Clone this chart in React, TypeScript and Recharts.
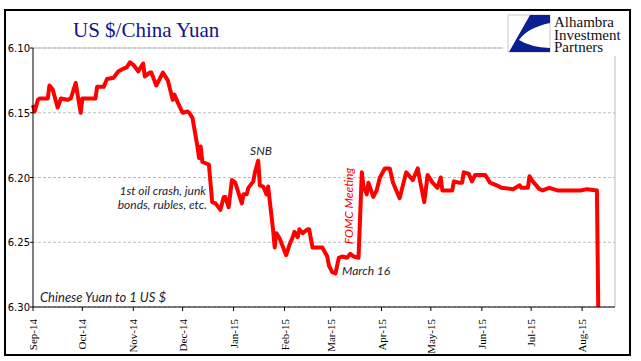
import { CartesianGrid, Line, LineChart, ReferenceLine, XAxis, YAxis } from 'recharts';

// days since 1 Sep 2014, and the USD/CNY rate
const dayOffsets = [
  0, 1, 3, 4, 9, 10, 12, 15, 17, 21, 23, 24, 26, 27, 29, 30, 38, 39, 43, 45,
  49, 52, 55, 57, 59, 61, 64, 67, 68, 71, 72, 75, 79, 82, 85, 86, 88, 91, 94, 95,
  97, 100, 101, 102, 103, 105, 107, 109, 111, 114, 116, 117, 119, 121, 123, 127, 128, 130, 131, 134,
  135, 137, 138, 140, 142, 143, 146, 147, 148, 150, 154, 156, 158, 159, 161, 162, 164, 167, 168, 170,
  176, 179, 180, 182, 184, 186, 188, 191, 193, 195, 198, 200, 201, 203, 204, 207, 209, 211, 214, 217,
  219, 223, 227, 231, 234, 235, 238, 240, 243, 246, 248, 249, 255, 256, 259, 261, 262, 265, 267, 269,
  275, 278, 282, 285, 292, 296, 297, 301, 302, 304, 308, 310, 314, 319, 333, 337, 343, 344,
];

const rates = [
  6.144, 6.149, 6.14, 6.139, 6.139, 6.129, 6.132, 6.146, 6.139, 6.14, 6.139, 6.135, 6.127, 6.135, 6.15, 6.139, 6.139, 6.13, 6.13, 6.124,
  6.123, 6.118, 6.116, 6.115, 6.111, 6.113, 6.118, 6.112, 6.122, 6.119, 6.119, 6.129, 6.119, 6.125, 6.14, 6.136, 6.142, 6.15, 6.149, 6.15,
  6.154, 6.176, 6.185, 6.176, 6.188, 6.189, 6.19, 6.219, 6.22, 6.225, 6.215, 6.215, 6.223, 6.202, 6.204, 6.22, 6.213, 6.213, 6.208, 6.203,
  6.196, 6.187, 6.206, 6.207, 6.213, 6.207, 6.24, 6.254, 6.243, 6.247, 6.26, 6.252, 6.246, 6.242, 6.246, 6.24, 6.243, 6.24, 6.24, 6.254,
  6.254, 6.261, 6.268, 6.273, 6.274, 6.262, 6.261, 6.262, 6.259, 6.261, 6.262, 6.196, 6.207, 6.213, 6.204, 6.215, 6.21, 6.2, 6.193, 6.193,
  6.204, 6.216, 6.196, 6.202, 6.193, 6.2, 6.219, 6.198, 6.204, 6.208, 6.2, 6.21, 6.21, 6.203, 6.204, 6.204, 6.196, 6.197, 6.203, 6.198,
  6.198, 6.204, 6.206, 6.208, 6.209, 6.206, 6.208, 6.208, 6.199, 6.203, 6.209, 6.21, 6.208, 6.21, 6.21, 6.209, 6.21, 6.323,
];

const monthTicks = [0, 30, 61, 91, 122, 153, 181, 212, 242, 273, 303, 334];
const monthLabels = ['Sep-14', 'Oct-14', 'Nov-14', 'Dec-14', 'Jan-15', 'Feb-15', 'Mar-15', 'Apr-15', 'May-15', 'Jun-15', 'Jul-15', 'Aug-15'];
const rateTicks = [6.1, 6.15, 6.2, 6.25, 6.3];

const data = dayOffsets.map((d, i) => ({ day: d, rate: rates[i] }));

const noteFont = 'Lato, "Open Sans", sans-serif';

function MonthTick({ x, y, payload }: any) {
  const label = monthLabels[monthTicks.indexOf(payload.value)];
  return (
    <text x={x + 4} y={y + 6} transform={`rotate(-90, ${x + 4}, ${y + 6})`} textAnchor="end"
      fontFamily='"Liberation Serif", serif' fontSize={11} fill="#000">{label}</text>
  );
}

function RateTick({ x, y, payload }: any) {
  return (
    <text x={x + 2} y={y + 4} textAnchor="end" fontFamily='"DejaVu Sans", sans-serif' fontSize={10} fill="#000">
      {payload.value.toFixed(2)}
    </text>
  );
}

export default function App() {
  return (
    <div style={{ position: 'absolute', left: 0, top: 0, width: 641, height: 361, background: '#fff' }}>
      <LineChart width={641} height={361} data={data} margin={{ top: 48, right: 26, left: 0, bottom: 0 }}>
        <CartesianGrid vertical={false} strokeDasharray="3 2" stroke="#bdbdbd" />
        <XAxis dataKey="day" type="number" domain={[0, 354]} ticks={monthTicks} interval={0}
          height={54} tickSize={4} stroke="#000" tick={<MonthTick />} />
        <YAxis type="number" reversed domain={[6.1, 6.3]} ticks={rateTicks} allowDataOverflow
          width={33} tickSize={3} stroke="#000" tick={<RateTick />} />
        <ReferenceLine y={6.1} stroke="#bdbdbd" />
        <ReferenceLine x={354} stroke="#bdbdbd" />
        <Line type="linear" dataKey="rate" stroke="#ff0000" strokeWidth={4} dot={false}
          strokeLinejoin="round" isAnimationActive={false} />
      </LineChart>

      <svg width={641} height={361} style={{ position: 'absolute', left: 0, top: 0, pointerEvents: 'none' }}>
        <rect x={5} y={10} width={625} height={345} fill="none" stroke="#000" strokeWidth={2} />
        <text x={73} y={37} fontFamily='"Liberation Serif", serif' fontSize={21} fill="#14148a">US $/China Yuan</text>

        {/* logo */}
        <rect x={503} y={12} width={125} height={44} fill="#fff" />
        <rect x={508} y={15} width={42} height={37} fill="#fff" stroke="#c8c8c8" strokeWidth={1} />
        <path d="M530,15 L550,15 L550,23 Q527,28 519,40 Q530,47 550,48 L550,52 L509,52 Z" fill="#0a1f91" />
        <g fontFamily='"Liberation Serif", serif' fontSize={15} fill="#111">
          <text x={554} y={27}>Alhambra</text>
          <text x={554} y={39.5}>Investment</text>
          <text x={554} y={52}>Partners</text>
        </g>

        <g fontFamily={noteFont} fontStyle="italic" fontSize={12} fill="#1c1c30">
          <text x={261} y={155} textAnchor="middle">SNB</text>
          <text x={206} y={195} textAnchor="end">1st oil crash, junk</text>
          <text x={207} y={209} textAnchor="end">bonds, rubles, etc.</text>
          <text x={342} y={275}>March 16</text>
          <text x={40} y={302} fontSize={13}>Chinese Yuan to 1 US $</text>
        </g>
        <text x={353} y={206} transform="rotate(-90, 353, 206)" textAnchor="middle"
          fontFamily={noteFont} fontStyle="italic" fontSize={12} fill="#ff0000">FOMC Meeting</text>
      </svg>
    </div>
  );
}
